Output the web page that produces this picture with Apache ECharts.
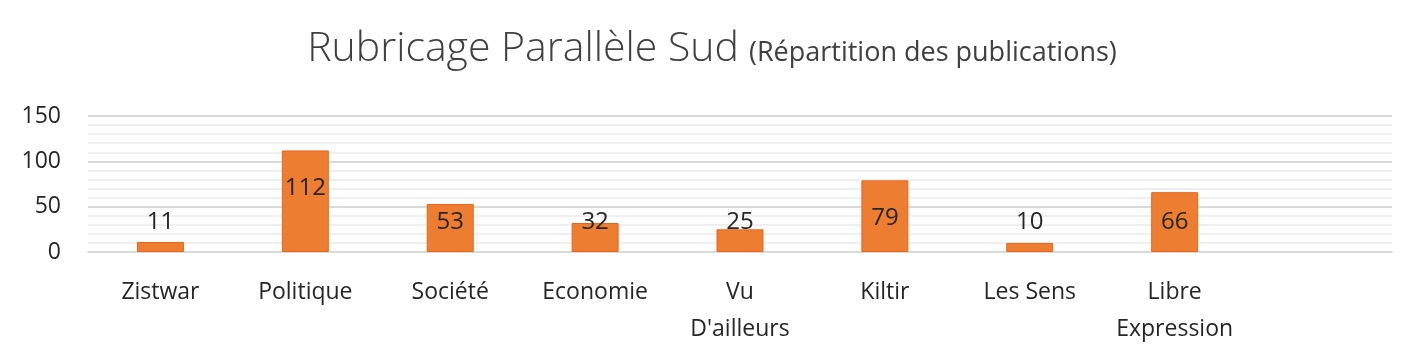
<!DOCTYPE html>
<html>
<head>
<meta charset="utf-8">
<script src="https://cdn.jsdelivr.net/npm/echarts@6/dist/echarts.min.js"></script>
<style>
html,body{margin:0;padding:0;background:#fff;}
#c{width:1424px;height:358px;}
</style>
</head>
<body>
<div id="c"></div>
<script>
const categories = ["Zistwar", "Politique", "Société", "Economie", "Vu\nD'ailleurs", "Kiltir", "Les Sens", "Libre\nExpression", ""];
const values = [11, 112, 53, 32, 25, 79, 10, 66, null];
const yTicks = [0, 50, 100, 150];
// label distance from the baseline (style only)
const labelDistance = [18, 52, 18, 18, 18, 22, 18, 18, 18];

const chart = echarts.init(document.getElementById('c'), null, {renderer: 'canvas'});
const font = '"Open Sans", sans-serif';
chart.setOption({
  animation: false,
  backgroundColor: '#ffffff',
  title: {
    text: '{a|Rubricage Parallèle Sud}  {b|(Répartition des publications)}',
    left: 'center',
    top: 24,
    textStyle: {
      rich: {
        a: {fontFamily: font, fontSize: 41, fontWeight: 300, color: '#404040'},
        b: {fontFamily: font, fontSize: 27, fontWeight: 400, color: '#404040', padding: [8, 0, 0, 0]}
      }
    }
  },
  grid: {left: 88, right: 32, top: 116, bottom: 106, containLabel: false},
  xAxis: {
    type: 'category',
    data: categories,
    axisLine: {show: true, lineStyle: {color: '#d9d9d9', width: 2}},
    axisTick: {show: false},
    axisLabel: {fontFamily: font, fontSize: 23, color: '#262626', margin: 22, lineHeight: 37, interval: 0}
  },
  yAxis: {
    type: 'value',
    min: yTicks[0],
    max: yTicks[yTicks.length - 1],
    interval: 50,
    axisLine: {show: false},
    axisTick: {show: false},
    axisLabel: {fontFamily: font, fontSize: 23, color: '#262626', margin: 27},
    splitLine: {lineStyle: {color: '#d9d9d9', width: 2}},
    minorTick: {show: false, splitNumber: 5},
    minorSplitLine: {show: true, lineStyle: {color: '#efefef', width: 2}}
  },
  series: [{
    type: 'bar',
    barWidth: 47,
    data: values.map((v, i) => ({
      value: v,
      label: {distance: labelDistance[i]}
    })),
    itemStyle: {color: '#ED7D31', borderColor: '#E8661A', borderWidth: 1},
    label: {
      show: true,
      position: 'insideBottom',
      fontFamily: font,
      fontSize: 24,
      color: '#262626'
    }
  }]
});
</script>
</body>
</html>
